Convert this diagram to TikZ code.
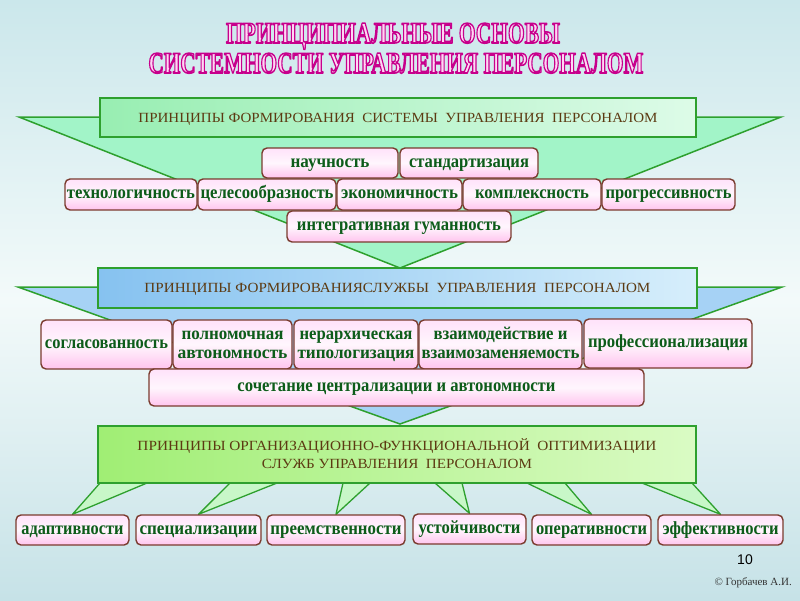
\documentclass[tikz,border=0pt]{standalone}
\usepackage{fontspec}
\setmainfont{Liberation Serif}
\newfontfamily\numfont{Liberation Sans}
\usepackage{graphicx}
\usetikzlibrary{calc}
\definecolor{bgtop}{HTML}{CBE7EB}
\definecolor{bgmid}{HTML}{F3FAFA}
\definecolor{bgbot}{HTML}{C6E2E7}
\definecolor{trigreen}{HTML}{A2F4C8}
\definecolor{triblue}{HTML}{A6D2F5}
\definecolor{edgegreen}{HTML}{2EA02E}
\definecolor{boxAl}{HTML}{98EEB2}
\definecolor{boxAr}{HTML}{DDFBE8}
\definecolor{boxBl}{HTML}{86C2F0}
\definecolor{boxBr}{HTML}{D6EEFB}
\definecolor{boxCl}{HTML}{A0EE74}
\definecolor{boxCr}{HTML}{DAFBC4}
\definecolor{smalltri}{HTML}{C8F7C8}
\definecolor{pinktop}{HTML}{FFE2FA}
\definecolor{pinkmid}{HTML}{FFF6FD}
\definecolor{pinkbot}{HTML}{FFC4EE}
\definecolor{pinkborder}{HTML}{7A3B2E}
\definecolor{txtgreen}{HTML}{0D5C1A}
\definecolor{txtbrown}{HTML}{5C3A12}
\definecolor{titlefill}{HTML}{FFD6F4}
\newcommand\fitw[2]{\resizebox{#1}{\height}{#2}}
\newcommand\outl[1]{\special{pdf:literal direct 2 Tr 1.6 w 1 j 0.78 0 0.55 RG}#1\special{pdf:literal direct 0 Tr}}
\pgfdeclarelayer{background}
\pgfsetlayers{background,main}
\begin{document}
\begin{tikzpicture}[x=1pt,y=-1pt,
  titletext/.style={inner sep=0pt, anchor=base, text=titlefill, font=\fontsize{30}{32}\selectfont\bfseries},
  headbox/.style={draw=edgegreen, line width=2.6pt, inner sep=0pt, text=txtbrown,
     font=\fontsize{14}{18}\selectfont, text height=9.2pt, text depth=0pt},
  pbox/.style={draw=pinkborder, line width=1.4pt, rounded corners=5pt, top color=pinktop,
     bottom color=pinkbot, middle color=pinkmid, inner sep=0pt, text=txtgreen,
     font=\fontsize{18.5}{19}\selectfont\bfseries, text height=8.5pt, text depth=0pt},
  pbox2/.style={pbox, align=center, font=\fontsize{18}{19}\selectfont\bfseries, text height=27.3pt, text depth=0pt},
  bigtri/.style={draw=edgegreen, line width=1.5pt, line join=miter},
  smtri/.style={draw=edgegreen, fill=smalltri, line width=1.3pt, line join=round},
  note/.style={inner sep=0pt}
]
\useasboundingbox (0,0) rectangle (800,600);

% title
\node[titletext] (title1) at (393,43) {\fitw{334pt}{\outl{ПРИНЦИПИАЛЬНЫЕ ОСНОВЫ}}};
\node[titletext] (title2) at (396,73) {\fitw{495pt}{\outl{СИСТЕМНОСТИ УПРАВЛЕНИЯ ПЕРСОНАЛОМ}}};

% header boxes
\node[headbox, left color=boxAl, right color=boxAr, minimum width=596pt, minimum height=39pt] (head1) at (398,117.5)
  {\fitw{519pt}{ПРИНЦИПЫ ФОРМИРОВАНИЯ\ \ СИСТЕМЫ\ \ УПРАВЛЕНИЯ\ \ ПЕРСОНАЛОМ}};
\node[headbox, left color=boxBl, right color=boxBr, minimum width=599pt, minimum height=40pt] (head2) at (397.5,288)
  {\fitw{506pt}{ПРИНЦИПЫ ФОРМИРОВАНИЯСЛУЖБЫ\ \ УПРАВЛЕНИЯ\ \ ПЕРСОНАЛОМ}};
\node[headbox, left color=boxCl, right color=boxCr, minimum width=598pt, minimum height=57pt,
      align=center, text height=27.2pt, text depth=0pt] (head3) at (397,454.5)
  {\fitw{519pt}{ПРИНЦИПЫ ОРГАНИЗАЦИОННО-ФУНКЦИОНАЛЬНОЙ\ \ ОПТИМИЗАЦИИ}\\\fitw{270pt}{СЛУЖБ УПРАВЛЕНИЯ\ \ ПЕРСОНАЛОМ}};

% first group
\node[pbox, minimum width=136pt, minimum height=30pt] (nauch) at (330,163) {\fitw{79pt}{научность}};
\node[pbox, minimum width=138pt, minimum height=30pt] (stand) at (469,163) {\fitw{120pt}{стандартизация}};
\node[pbox, minimum width=132pt, minimum height=31pt] (tech) at (131,194.5) {\fitw{128pt}{технологичность}};
\node[pbox, minimum width=138pt, minimum height=31pt] (cel) at (267,194.5) {\fitw{133pt}{целесообразность}};
\node[pbox, minimum width=125pt, minimum height=31pt] (econ) at (399.5,194.5) {\fitw{117pt}{экономичность}};
\node[pbox, minimum width=138pt, minimum height=31pt] (kompl) at (532,194.5) {\fitw{114pt}{комплексность}};
\node[pbox, minimum width=133pt, minimum height=31pt] (progr) at (668.5,194.5) {\fitw{126pt}{прогрессивность}};
\node[pbox, minimum width=224pt, minimum height=31pt] (integ) at (399,226.5) {\fitw{204pt}{интегративная гуманность}};

% second group
\node[pbox, minimum width=131pt, minimum height=49pt] (sogl) at (106.5,344.5) {\fitw{123pt}{согласованность}};
\node[pbox2, minimum width=119pt, minimum height=49pt] (poln) at (232.5,344.5) {\fitw{102pt}{полномочная}\\\fitw{110pt}{автономность}};
\node[pbox2, minimum width=124pt, minimum height=49pt] (ner) at (356,344.5) {\fitw{113pt}{нерархическая}\\\fitw{117pt}{типологизация}};
\node[pbox2, minimum width=163pt, minimum height=49pt] (vzaim) at (500.5,344.5) {\fitw{134pt}{взаимодействие и}\\\fitw{158pt}{взаимозаменяемость}};
\node[pbox, minimum width=168pt, minimum height=49pt] (prof) at (668,343.5) {\fitw{160pt}{профессионализация}};
\node[pbox, minimum width=495pt, minimum height=37pt] (soch) at (396.5,387.5) {\fitw{318pt}{сочетание централизации и автономности}};

% bottom row
\node[pbox, minimum width=113pt, minimum height=30pt] (adapt) at (72.5,530) {\fitw{102pt}{адаптивности}};
\node[pbox, minimum width=125pt, minimum height=30pt] (spec) at (198.5,530) {\fitw{118pt}{специализации}};
\node[pbox, minimum width=138pt, minimum height=30pt] (preem) at (336,530) {\fitw{131pt}{преемственности}};
\node[pbox, minimum width=113pt, minimum height=30pt] (ust) at (469.5,529) {\fitw{102pt}{устойчивости}};
\node[pbox, minimum width=119pt, minimum height=30pt] (oper) at (591.5,530) {\fitw{111pt}{оперативности}};
\node[pbox, minimum width=125pt, minimum height=30pt] (eff) at (720.5,530) {\fitw{116pt}{эффективности}};

% page number and author
\node[note, font=\numfont\fontsize{14}{16}\selectfont] (pagenum) at (745,560) {10};
\node[note, anchor=east, font=\fontsize{11}{12}\selectfont, text=black!80] (author) at (792,583) {© Горбачев А.И.};

\begin{pgfonlayer}{background}
  \shade[top color=bgtop, bottom color=bgbot, middle color=bgmid] (0,0) rectangle (800,600);
  \coordinate (gl) at (19,117);
  \coordinate (gr) at (781,117);
  \coordinate (gapex) at (400,268);
  \coordinate (bl) at (18,287);
  \coordinate (br) at (782,287);
  \coordinate (bapex) at (400,424);
  \filldraw[bigtri, fill=trigreen] (gl) -- (gr) -- (gapex) -- cycle;
  \filldraw[bigtri, fill=triblue] (bl) -- (br) -- (bapex) -- cycle;
  \coordinate (b1a) at (100,483); \coordinate (b1b) at (147,483);
  \coordinate (b2a) at (230,483); \coordinate (b2b) at (277,483);
  \coordinate (b3a) at (343,483); \coordinate (b3b) at (370,483);
  \coordinate (b4a) at (435,483); \coordinate (b4b) at (462,483);
  \coordinate (b5a) at (527,483); \coordinate (b5b) at (565,483);
  \coordinate (b6a) at (642,483); \coordinate (b6b) at (692,483);
  \filldraw[smtri] (adapt.north) -- (b1a) -- (b1b) -- cycle;
  \filldraw[smtri] (spec.north) -- (b2a) -- (b2b) -- cycle;
  \filldraw[smtri] (preem.north) -- (b3a) -- (b3b) -- cycle;
  \filldraw[smtri] (ust.north) -- (b4a) -- (b4b) -- cycle;
  \filldraw[smtri] (oper.north) -- (b5a) -- (b5b) -- cycle;
  \filldraw[smtri] (eff.north) -- (b6a) -- (b6b) -- cycle;
\end{pgfonlayer}
\end{tikzpicture}
\end{document}
